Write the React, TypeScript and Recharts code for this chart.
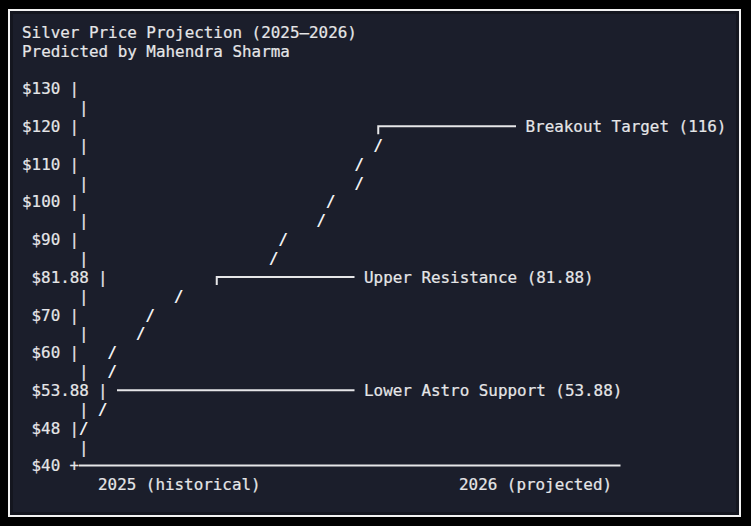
import { ScatterChart, Scatter, XAxis, YAxis } from 'recharts'

// text-grid chart: x = character column, y = text row
const titleLines = ['Silver Price Projection (2025–2026)', 'Predicted by Mahendra Sharma']
const priceTicks = ['$130', '$120', '$110', '$100', '$90', '$81.88', '$70', '$60', '$53.88', '$48', '$40']

const trendRows = [6, 7, 8, 9, 10, 11, 12, 14, 15, 16, 17, 18, 20, 21]
const trendCols = [37, 35, 35, 32, 31, 27, 26, 16, 13, 12, 9, 9, 8, 6]

const levelNames = ['Breakout Target (116)', 'Upper Resistance (81.88)', 'Lower Astro Support (53.88)']
const levelRows = [5, 13, 19]
const levelStart = [37, 20, 10]
const levelEnd = [51, 34, 34]
const levelCorner = [true, true, false]

const periods = ['2025 (historical)', '2026 (projected)']
const periodCols = [8, 46]

const W = 751
const H = 526
const CHAR_W = 9.5
const ROW_H = 18.85
const X0 = 22
const Y0 = 31
const FONT = "'DejaVu Sans Mono', 'Liberation Mono', monospace"
const FG = '#e6e6e8'

interface Cell {
  col: number
  row: number
  text?: string
  color?: string
  rule?: number // horizontal box-drawing run, in characters
  corner?: boolean
}

const cells: Cell[] = []
titleLines.forEach((t, i) => cells.push({ col: 0, row: i, text: t }))

// y axis labels on even rows, continuation bars on odd rows
priceTicks.forEach((label, i) => {
  const row = 3 + i * 2
  const col = label.length === 4 ? 0 : 1
  const isLast = i === priceTicks.length - 1
  cells.push({ col, row, text: label })
  cells.push({ col: col + label.length + 1, row, text: isLast ? '+' : '|' })
  if (!isLast) cells.push({ col: 6, row: row + 1, text: '|' })
})

// x axis line
const axisRow = 3 + (priceTicks.length - 1) * 2
cells.push({ col: 6, row: axisRow, rule: 57 })
periods.forEach((p, i) => cells.push({ col: periodCols[i], row: axisRow + 1, text: p }))

// level markers
levelNames.forEach((name, i) => {
  cells.push({
    col: levelStart[i],
    row: levelRows[i],
    rule: levelEnd[i] - levelStart[i] + 1,
    corner: levelCorner[i],
  })
  cells.push({ col: levelEnd[i] + 2, row: levelRows[i], text: name })
})

const trend: Cell[] = trendRows.map((row, i) => ({ col: trendCols[i], row, text: '/', color: '#ffffff' }))

const Glyph = (props: any) => {
  const { cx, cy, payload } = props
  if (cx == null || cy == null) return null
  const color = payload.color || FG
  if (payload.rule) {
    const y = cy + 1
    const x1 = payload.corner ? cx + CHAR_W / 2 : cx
    const x2 = cx + payload.rule * CHAR_W
    const d = payload.corner ? `M${x1},${y + 8} L${x1},${y} L${x2},${y}` : `M${x1},${y} L${x2},${y}`
    return <path d={d} fill="none" stroke={color} strokeWidth={2} />
  }
  return (
    <text
      x={cx}
      y={cy + 6.8}
      fill={color}
      stroke={color}
      strokeWidth={0.2}
      fontFamily={FONT}
      fontSize={15.9}
      style={{ whiteSpace: 'pre' }}
    >
      {payload.text}
    </text>
  )
}

export default function App() {
  return (
    <div style={{ position: 'absolute', left: 0, top: 0, width: W, height: H, background: '#000' }}>
      <div
        style={{
          position: 'absolute',
          left: 8,
          top: 9,
          width: 729,
          height: 504,
          border: '2px solid #f2f2f2',
          background: '#1b1e2b',
          boxShadow: 'inset 0 0 0 3px #14161f',
        }}
      />
      <div style={{ position: 'absolute', left: 0, top: 0 }}>
        <ScatterChart width={W} height={H} margin={{ top: 0, right: 0, bottom: 0, left: 0 }}>
          <XAxis
            type="number"
            dataKey="col"
            hide
            allowDataOverflow
            domain={[-X0 / CHAR_W, (W - X0) / CHAR_W]}
          />
          <YAxis
            type="number"
            dataKey="row"
            hide
            reversed
            allowDataOverflow
            domain={[-Y0 / ROW_H, (H - Y0) / ROW_H]}
          />
          <Scatter data={cells} shape={Glyph} isAnimationActive={false} />
          <Scatter data={trend} shape={Glyph} isAnimationActive={false} />
        </ScatterChart>
      </div>
    </div>
  )
}
